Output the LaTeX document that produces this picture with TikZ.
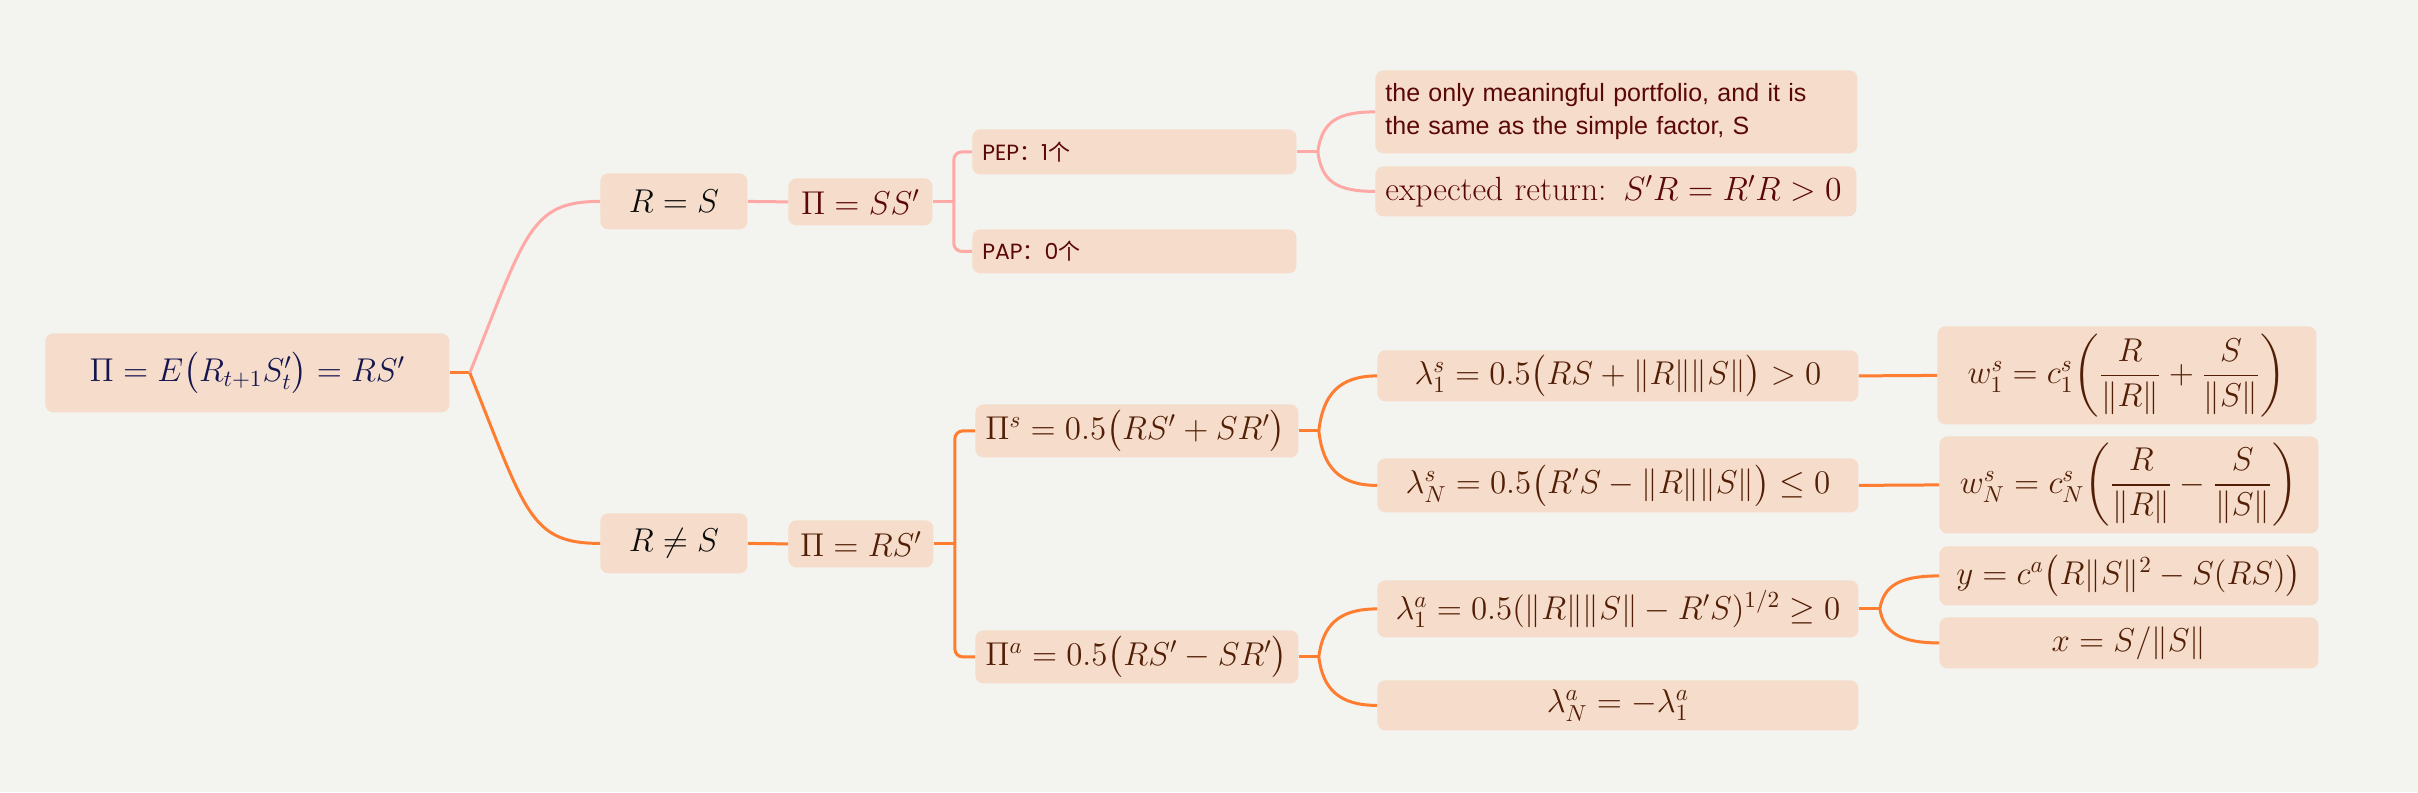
\RequirePackage{fix-cm}
\documentclass[tikz,border=0pt]{standalone}
\usepackage{amsmath}
\usepackage{fontspec}
\newfontfamily\cjkfont{Noto Sans CJK SC}
\newfontfamily\arialfont{Liberation Sans}
\newfontfamily\popfont{Poppins}
\definecolor{bgc}{HTML}{F3F3EF}
\definecolor{boxfill}{HTML}{F6DCCA}
\definecolor{pinkline}{HTML}{FFA9A6}
\definecolor{orangeline}{HTML}{FF7D30}
\definecolor{navy}{HTML}{16164F}
\definecolor{darkred}{HTML}{5A0707}
\definecolor{brownc}{HTML}{521F06}
\definecolor{blackc}{HTML}{0A0A0A}
\tikzset{
  bx/.style 2 args={fill=boxfill, rounded corners=4pt, anchor=north west,
    inner xsep=5pt, inner ysep=0pt, text width=#1, minimum height=#2},
  mth/.style={font=\fontsize{16.5}{19}\selectfont},
  pk/.style={draw=pinkline, line width=1.5pt},
  og/.style={draw=orangeline, line width=1.5pt},
  smallcjk/.style={font=\popfont\fontsize{11}{13}\selectfont},
}
\begin{document}
\begin{tikzpicture}[x=0.5pt,y=-0.5pt]
\fill[bgc] (0,0) rectangle (2418,792);
\useasboundingbox (0,0) rectangle (2418,792);

% nodes
\node[bx={192pt}{39.5pt}, mth, align=center, text=navy] (root) at (45,333) {\mbox{$\Pi = E\bigl(R_{t+1}S'_t\bigr) = RS'$}};
\node[bx={63.5pt}{28pt}, mth, align=center, text=blackc] (rs) at (600,173) {\mbox{$R = S$}};
\node[bx={63.5pt}{30pt}, mth, align=center, text=blackc] (rns) at (600,513) {\mbox{$R \neq S$}};
\node[bx={62pt}{23.5pt}, mth, align=center, text=darkred] (sss) at (788,178) {\mbox{$\Pi = SS'$}};
\node[bx={62.5pt}{23.5pt}, mth, align=center, text=brownc] (rrs) at (788,520) {\mbox{$\Pi = RS'$}};

\node[bx={152pt}{22.5pt}, align=left, text=darkred, smallcjk] (pep) at (972,129) {PEP{\cjkfont ：}1{\cjkfont 个}};
\node[bx={152pt}{22pt}, align=left, text=darkred, smallcjk] (pap) at (972,229) {PAP{\cjkfont ：}0{\cjkfont 个}};

\node[bx={231pt}{41.5pt}, align=left, text=darkred, font=\arialfont\fontsize{12.5}{16.5}\selectfont] (b1) at (1375,70) {the only meaningful portfolio, and it is\\the same as the simple factor, S};
\node[bx={230.5pt}{25pt}, font=\fontsize{16.8}{19}\selectfont, align=left, text=darkred] (b2) at (1375,166) {\mbox{expected return: $S'R = R'R > 0$}};

\node[bx={151.5pt}{26.5pt}, mth, align=left, text=brownc] (ps) at (975,404) {\mbox{$\Pi^s = 0.5\bigl(RS' + SR'\bigr)$}};
\node[bx={151.5pt}{26.5pt}, mth, align=left, text=brownc] (pa) at (975,630) {\mbox{$\Pi^a = 0.5\bigl(RS' - SR'\bigr)$}};

\node[bx={230.5pt}{25.5pt}, mth, align=center, text=brownc] (l1s) at (1377,350) {\mbox{$\lambda_1^s = 0.5\bigl(RS + \|R\|\|S\|\bigr) > 0$}};
\node[bx={230.5pt}{27pt}, mth, align=center, text=brownc] (lns) at (1377,458) {\mbox{$\lambda_N^s = 0.5\bigl(R'S - \|R\|\|S\|\bigr) \leq 0$}};
\node[bx={230.5pt}{28.5pt}, mth, align=center, text=brownc] (l1a) at (1377,580) {\mbox{$\lambda_1^a = 0.5(\|R\|\|S\| - R'S)^{1/2} \geq 0$}};
\node[bx={230.5pt}{25pt}, mth, align=center, text=brownc] (lna) at (1377,680) {\mbox{$\lambda_N^a = -\lambda_1^a$}};

\node[bx={179.5pt}{49pt}, mth, align=center, text=brownc] (w1s) at (1937,326) {\mbox{$w_1^s = c_1^s\biggl(\dfrac{R}{\|R\|} + \dfrac{S}{\|S\|}\biggr)$}};
\node[bx={179.5pt}{48.5pt}, mth, align=center, text=brownc] (wns) at (1939,436) {\mbox{$w_N^s = c_N^s\biggl(\dfrac{R}{\|R\|} - \dfrac{S}{\|S\|}\biggr)$}};
\node[bx={179.5pt}{29.5pt}, mth, align=center, text=brownc] (yb) at (1939,546) {\mbox{$y = c^a\bigl(R\|S\|^2 - S(RS)\bigr)$}};
\node[bx={179.5pt}{25.5pt}, mth, align=center, text=brownc] (xb) at (1939,617) {\mbox{$x = S/\|S\|$}};

% connectors
\draw[og] (root.east) -- ++(20,0) coordinate (j0);
\draw[pk] (j0) .. controls +(56,-140) and +(-70,0) .. (rs.west);
\draw[og] (j0) .. controls +(56,140) and +(-70,0) .. (rns.west);
\draw[pk] (rs.east) -- (sss.west);
\draw[og] (rns.east) -- (rrs.west);

\draw[pk] (sss.east) -- ++(21,0) coordinate (j1);
\draw[pk, rounded corners=4pt] (j1) |- (pep.west);
\draw[pk, rounded corners=4pt] (j1) |- (pap.west);

\draw[og] (rrs.east) -- ++(21,0) coordinate (j2);
\draw[og, rounded corners=4pt] (j2) |- (ps.west);
\draw[og, rounded corners=4pt] (j2) |- (pa.west);

\draw[pk] (pep.east) -- ++(21,0) coordinate (j3);
\draw[pk] (j3) .. controls +(4,-30) and +(-38,0) .. (b1.west);
\draw[pk] (j3) .. controls +(4,30) and +(-38,0) .. (b2.west);

\draw[og] (ps.east) -- ++(20,0) coordinate (j4);
\draw[og] (j4) .. controls +(4,-36) and +(-38,0) .. (l1s.west);
\draw[og] (j4) .. controls +(4,36) and +(-38,0) .. (lns.west);

\draw[og] (pa.east) -- ++(20,0) coordinate (j5);
\draw[og] (j5) .. controls +(4,-32) and +(-38,0) .. (l1a.west);
\draw[og] (j5) .. controls +(4,32) and +(-38,0) .. (lna.west);

\draw[og] (l1s.east) -- (w1s.west);
\draw[og] (lns.east) -- (wns.west);

\draw[og] (l1a.east) -- ++(21,0) coordinate (j6);
\draw[og] (j6) .. controls +(4,-24) and +(-38,0) .. (yb.west);
\draw[og] (j6) .. controls +(4,24) and +(-38,0) .. (xb.west);
\end{tikzpicture}
\end{document}
